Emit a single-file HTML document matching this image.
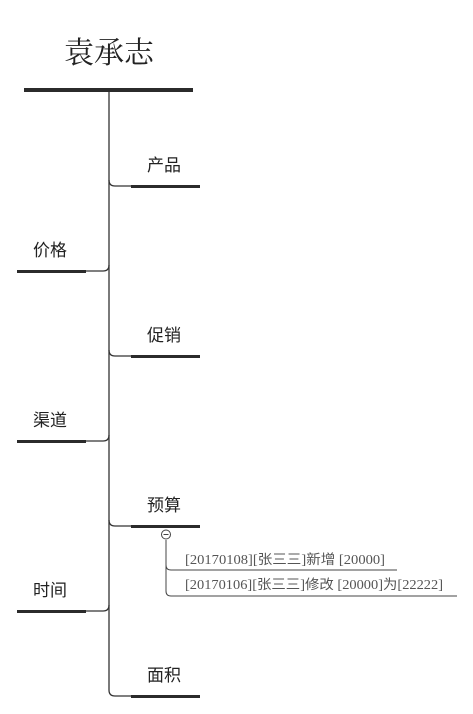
<!DOCTYPE html>
<html><head><meta charset="utf-8"><style>
html,body{margin:0;padding:0;background:#fff;width:473px;height:714px;overflow:hidden}
svg{display:block}
.t{font-family:"Liberation Sans","Noto Sans CJK SC",sans-serif;font-size:17px;fill:#222}
.s{font-family:"Liberation Serif","Noto Sans CJK SC",serif;font-size:13.5px;fill:#555}
</style></head><body>
<svg width="473" height="714" viewBox="0 0 473 714" xmlns="http://www.w3.org/2000/svg">
<text x="109" y="63" text-anchor="middle" style="font-family:'Liberation Serif','Noto Serif CJK SC',serif;font-size:30px;fill:#222">袁承志</text>
<rect x="24" y="88" width="169" height="4" fill="#2b2b2b"/>
<g fill="none" stroke="#333" stroke-width="1.3">
<path d="M109 92 V690 Q109 696 115 696 H131"/>
<path d="M109 180 Q109 186 115 186 H131"/>
<path d="M109 350 Q109 356 115 356 H131"/>
<path d="M109 520 Q109 526 115 526 H131"/>
<path d="M109 265 Q109 271 103 271 H86"/>
<path d="M109 435 Q109 441 103 441 H86"/>
<path d="M109 605 Q109 611 103 611 H86"/>
</g>
<g fill="#2b2b2b">
<rect x="131" y="185" width="69" height="3"/>
<rect x="131" y="355" width="69" height="3"/>
<rect x="131" y="525" width="69" height="3"/>
<rect x="131" y="695" width="69" height="3"/>
<rect x="17" y="270" width="69" height="3"/>
<rect x="17" y="440" width="69" height="3"/>
<rect x="17" y="610" width="69" height="3"/>
</g>
<text class="t" x="164" y="171" text-anchor="middle">产品</text>
<text class="t" x="164" y="341" text-anchor="middle">促销</text>
<text class="t" x="164" y="511" text-anchor="middle">预算</text>
<text class="t" x="164" y="681" text-anchor="middle">面积</text>
<text class="t" x="50" y="256" text-anchor="middle">价格</text>
<text class="t" x="50" y="426" text-anchor="middle">渠道</text>
<text class="t" x="50" y="596" text-anchor="middle">时间</text>
<g fill="none" stroke="#444" stroke-width="1">
<path d="M166 540 V565 Q166 570 171 570 H397"/>
<path d="M166 565 V591 Q166 596 171 596 H457"/>
<circle cx="166" cy="534.5" r="4.5" fill="#fff"/>
<path d="M163.5 534.5 H168.5"/>
</g>
<text class="s" x="185" y="564" textLength="200" lengthAdjust="spacingAndGlyphs">[20170108][张三三]新增 [20000]</text>
<text class="s" x="185" y="589" textLength="258" lengthAdjust="spacingAndGlyphs">[20170106][张三三]修改 [20000]为[22222]</text>
</svg>
</body></html>
